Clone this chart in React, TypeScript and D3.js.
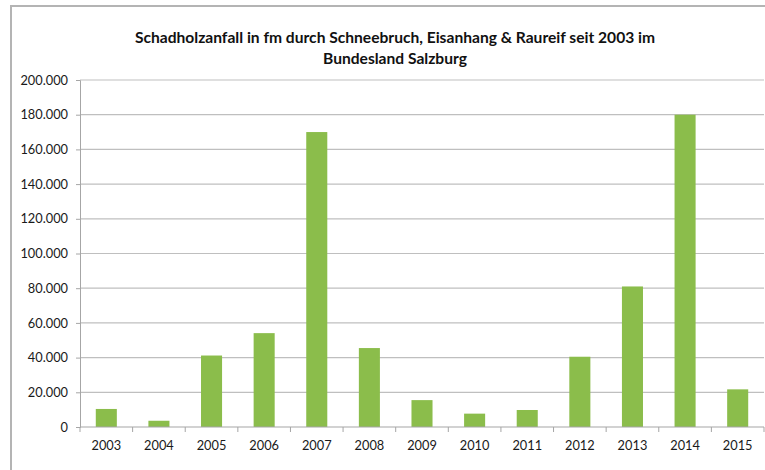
import { useEffect, useRef } from 'react';
import * as d3 from 'd3';

const years = ['2003', '2004', '2005', '2006', '2007', '2008', '2009', '2010', '2011', '2012', '2013', '2014', '2015'];
const volumes = [10400, 3600, 41200, 54100, 170000, 45500, 15500, 7700, 9800, 40500, 81000, 180000, 21700];
const yTicks = [0, 20000, 40000, 60000, 80000, 100000, 120000, 140000, 160000, 180000, 200000];
const titleLines = [
  'Schadholzanfall in fm durch Schneebruch, Eisanhang & Raureif seit 2003 im',
  'Bundesland Salzburg',
];

const fmt = (v: number) => (v === 0 ? '0' : d3.format(',')(v).replace(/,/g, '.'));

export default function App() {
  const svgRef = useRef<SVGSVGElement>(null);

  useEffect(() => {
    if (!svgRef.current) return;
    const svg = d3.select(svgRef.current);
    svg.selectAll('*').remove();

    const width = 765;
    const height = 470;
    const margin = { left: 80, right: 1, top: 80, bottom: 43 };
    const font = 'Lato, "Open Sans", sans-serif';

    // chart frame
    svg.append('rect')
      .attr('x', 11).attr('y', 6)
      .attr('width', width + 10).attr('height', height + 10)
      .attr('fill', '#fff')
      .attr('stroke', '#b4b4b4')
      .attr('stroke-width', 2);

    const x = d3.scaleBand<string>()
      .domain(years)
      .range([margin.left, width - margin.right])
      .paddingInner(0.6)
      .paddingOuter(0.3);

    const y = d3.scaleLinear()
      .domain([0, 200000])
      .range([height - margin.bottom, margin.top]);

    // grid lines
    svg.append('g')
      .selectAll('line')
      .data(yTicks.slice(1))
      .enter()
      .append('line')
      .attr('x1', margin.left).attr('x2', width - margin.right)
      .attr('y1', d => y(d)).attr('y2', d => y(d))
      .attr('stroke', '#bfbfbf')
      .attr('stroke-width', 1.2);

    // bars
    svg.append('g')
      .selectAll('rect')
      .data(years)
      .enter()
      .append('rect')
      .attr('x', d => x(d)!)
      .attr('width', x.bandwidth())
      .attr('y', (d, i) => y(volumes[i]))
      .attr('height', (d, i) => y(0) - y(volumes[i]))
      .attr('fill', '#8bbd4b');

    // y axis
    const yAxis = svg.append('g')
      .attr('transform', `translate(${margin.left},0)`)
      .call(d3.axisLeft(y).tickValues(yTicks).tickFormat(d => fmt(+d)).tickSize(4).tickPadding(8));
    yAxis.select('.domain').attr('stroke', '#a6a6a6');
    yAxis.selectAll('.tick line').attr('stroke', '#a6a6a6');
    yAxis.selectAll('.tick text')
      .attr('font-family', font).attr('font-size', 12.8).attr('fill', '#1a1a1a');

    // x axis with ticks between categories
    const boundaries = years.map((d, i) => margin.left + i * (width - margin.right - margin.left) / years.length);
    boundaries.push(width - margin.right);
    const xg = svg.append('g');
    xg.append('line')
      .attr('x1', margin.left).attr('x2', width - margin.right)
      .attr('y1', y(0)).attr('y2', y(0))
      .attr('stroke', '#a6a6a6').attr('stroke-width', 1.2);
    xg.selectAll('line.tick')
      .data(boundaries)
      .enter()
      .append('line')
      .attr('class', 'tick')
      .attr('x1', d => d).attr('x2', d => d)
      .attr('y1', y(0)).attr('y2', y(0) + 5)
      .attr('stroke', '#a6a6a6');
    xg.selectAll('text')
      .data(years)
      .enter()
      .append('text')
      .attr('x', d => x(d)! + x.bandwidth() / 2)
      .attr('y', y(0) + 23)
      .attr('text-anchor', 'middle')
      .attr('font-family', font)
      .attr('font-size', 12.8)
      .attr('fill', '#1a1a1a')
      .text(d => d);

    // title
    svg.append('g')
      .selectAll('text')
      .data(titleLines)
      .enter()
      .append('text')
      .attr('x', 395)
      .attr('y', (d, i) => 43 + i * 21)
      .attr('text-anchor', 'middle')
      .attr('font-family', font)
      .attr('font-weight', 'bold')
      .attr('font-size', 15.6)
      .attr('fill', '#111')
      .text(d => d);
  }, []);

  return (
    <svg
      ref={svgRef}
      width={765}
      height={470}
      style={{ position: 'absolute', left: 0, top: 0, background: '#fff' }}
    />
  );
}
